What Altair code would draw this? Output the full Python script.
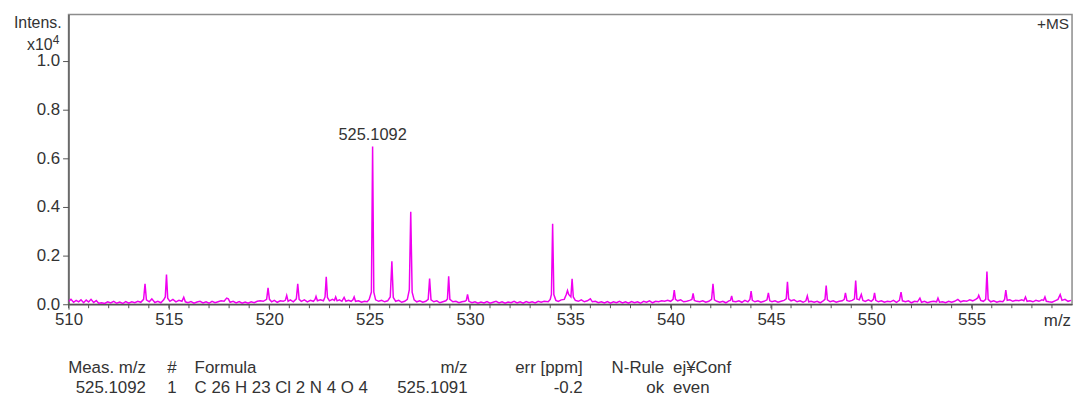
import altair as alt
import pandas as pd

# ---- spectrum data (m/z, intensity x10^4) ----
seg_510_520 = [
    (510.00, 0.012), (510.12, 0.020), (510.25, 0.008), (510.38, 0.016), (510.50, 0.010),
    (510.62, 0.018), (510.75, 0.006), (510.88, 0.017), (511.00, 0.009), (511.12, 0.020),
    (511.25, 0.007), (511.38, 0.015), (511.50, 0.004), (511.65, 0.006), (511.80, 0.003),
    (511.95, 0.010), (512.10, 0.005), (512.25, 0.012), (512.40, 0.004), (512.55, 0.009),
    (512.70, 0.003), (512.85, 0.011), (513.00, 0.004), (513.15, 0.010), (513.30, 0.006),
    (513.45, 0.012), (513.60, 0.008), (513.74, 0.020), (513.81, 0.084), (513.88, 0.018),
    (514.02, 0.010), (514.15, 0.022), (514.30, 0.007), (514.45, 0.012), (514.60, 0.006),
    (514.74, 0.018), (514.82, 0.030), (514.88, 0.122), (514.94, 0.025), (515.05, 0.012),
    (515.20, 0.020), (515.35, 0.010), (515.50, 0.016), (515.65, 0.012), (515.74, 0.029),
    (515.82, 0.010), (515.95, 0.006), (516.10, 0.011), (516.25, 0.004), (516.40, 0.009),
    (516.55, 0.012), (516.70, 0.005), (516.85, 0.010), (517.00, 0.004), (517.15, 0.012),
    (517.30, 0.006), (517.45, 0.010), (517.60, 0.014), (517.75, 0.012), (517.88, 0.025),
    (517.96, 0.022), (518.05, 0.008), (518.20, 0.012), (518.35, 0.005), (518.50, 0.011),
    (518.65, 0.004), (518.80, 0.009), (518.95, 0.004), (519.10, 0.010), (519.25, 0.006),
    (519.40, 0.012), (519.55, 0.014), (519.70, 0.012), (519.87, 0.020), (519.94, 0.067),
    (520.01, 0.020),
]
seg_520_525 = [
    (520.12, 0.010), (520.25, 0.016), (520.40, 0.008), (520.55, 0.014), (520.70, 0.012),
    (520.80, 0.016), (520.87, 0.036), (520.94, 0.012), (521.05, 0.018), (521.20, 0.010),
    (521.35, 0.022), (521.42, 0.084), (521.49, 0.020), (521.60, 0.012), (521.75, 0.018),
    (521.90, 0.010), (522.05, 0.016), (522.20, 0.012), (522.28, 0.020), (522.33, 0.032),
    (522.40, 0.014), (522.55, 0.018), (522.70, 0.014), (522.78, 0.030), (522.84, 0.113),
    (522.90, 0.028), (523.00, 0.014), (523.15, 0.020), (523.25, 0.016), (523.31, 0.030),
    (523.38, 0.014), (523.50, 0.018), (523.62, 0.012), (523.73, 0.028), (523.82, 0.012),
    (523.95, 0.016), (524.08, 0.012), (524.17, 0.018), (524.23, 0.030), (524.30, 0.012),
    (524.45, 0.014), (524.60, 0.008), (524.75, 0.012), (524.88, 0.010), (524.98, 0.020),
    (525.09, 0.050), (525.15, 0.648), (525.21, 0.050), (525.30, 0.018),
]
seg_525_535 = [
    (525.45, 0.012), (525.60, 0.016), (525.75, 0.010), (525.90, 0.014), (526.03, 0.030),
    (526.11, 0.176), (526.18, 0.028), (526.30, 0.012), (526.45, 0.016), (526.60, 0.008),
    (526.75, 0.012), (526.88, 0.020), (526.98, 0.060), (527.05, 0.380), (527.12, 0.050),
    (527.22, 0.018), (527.35, 0.010), (527.50, 0.014), (527.65, 0.008), (527.80, 0.012),
    (527.92, 0.020), (527.99, 0.105), (528.06, 0.018), (528.20, 0.010), (528.35, 0.014),
    (528.50, 0.006), (528.65, 0.010), (528.80, 0.014), (528.88, 0.022), (528.94, 0.115),
    (529.00, 0.020), (529.15, 0.010), (529.30, 0.012), (529.45, 0.006), (529.60, 0.010),
    (529.75, 0.012), (529.82, 0.016), (529.88, 0.040), (529.95, 0.012), (530.10, 0.006),
    (530.25, 0.010), (530.40, 0.004), (530.55, 0.009), (530.70, 0.005), (530.85, 0.011),
    (531.00, 0.004), (531.15, 0.008), (531.30, 0.012), (531.45, 0.005), (531.60, 0.010),
    (531.75, 0.004), (531.90, 0.009), (532.05, 0.006), (532.20, 0.012), (532.35, 0.005),
    (532.50, 0.010), (532.65, 0.004), (532.80, 0.011), (532.95, 0.006), (533.10, 0.010),
    (533.25, 0.005), (533.40, 0.012), (533.55, 0.008), (533.70, 0.012), (533.90, 0.010),
    (534.00, 0.020), (534.06, 0.040), (534.12, 0.330), (534.18, 0.040), (534.28, 0.016),
    (534.40, 0.012), (534.55, 0.018), (534.70, 0.020), (534.80, 0.040), (534.86, 0.056),
    (534.92, 0.040), (535.03, 0.030), (535.09, 0.104), (535.15, 0.030), (535.25, 0.016),
    (535.40, 0.012),
]
seg_535_546 = [
    (535.55, 0.018), (535.70, 0.010), (535.85, 0.014), (536.00, 0.022), (536.10, 0.010),
    (536.25, 0.012), (536.40, 0.006), (536.55, 0.010), (536.70, 0.005), (536.85, 0.011),
    (537.00, 0.004), (537.15, 0.010), (537.30, 0.006), (537.45, 0.012), (537.60, 0.005),
    (537.75, 0.010), (537.90, 0.004), (538.05, 0.011), (538.20, 0.006), (538.35, 0.010),
    (538.50, 0.004), (538.65, 0.012), (538.80, 0.008), (538.95, 0.014), (539.10, 0.006),
    (539.25, 0.012), (539.40, 0.010), (539.55, 0.014), (539.70, 0.012), (539.85, 0.016),
    (540.00, 0.012), (540.12, 0.020), (540.18, 0.058), (540.24, 0.020), (540.35, 0.014),
    (540.50, 0.018), (540.65, 0.010), (540.80, 0.012), (540.95, 0.016), (541.06, 0.020),
    (541.12, 0.045), (541.18, 0.016), (541.30, 0.012), (541.45, 0.010), (541.60, 0.014),
    (541.75, 0.008), (541.90, 0.012), (542.04, 0.020), (542.11, 0.084), (542.18, 0.018),
    (542.30, 0.012), (542.45, 0.008), (542.60, 0.012), (542.75, 0.006), (542.90, 0.014),
    (542.98, 0.016), (543.04, 0.034), (543.10, 0.012), (543.25, 0.010), (543.40, 0.014),
    (543.55, 0.008), (543.70, 0.016), (543.85, 0.010), (543.95, 0.020), (544.01, 0.054),
    (544.07, 0.016), (544.20, 0.010), (544.35, 0.014), (544.50, 0.008), (544.65, 0.012),
    (544.80, 0.018), (544.87, 0.047), (544.94, 0.014), (545.05, 0.010), (545.20, 0.014),
    (545.35, 0.008), (545.50, 0.012), (545.65, 0.016), (545.76, 0.022), (545.82, 0.092),
    (545.88, 0.022),
]
seg_546_560 = [
    (546.00, 0.014), (546.15, 0.018), (546.30, 0.010), (546.45, 0.014), (546.60, 0.008),
    (546.74, 0.014), (546.81, 0.034), (546.88, 0.010), (547.00, 0.012), (547.15, 0.008),
    (547.30, 0.012), (547.45, 0.006), (547.60, 0.014), (547.69, 0.020), (547.75, 0.077),
    (547.81, 0.018), (547.95, 0.010), (548.10, 0.014), (548.25, 0.008), (548.40, 0.012),
    (548.55, 0.014), (548.65, 0.020), (548.71, 0.047), (548.78, 0.016), (548.90, 0.012),
    (549.05, 0.016), (549.16, 0.022), (549.22, 0.097), (549.28, 0.022), (549.40, 0.018),
    (549.50, 0.040), (549.58, 0.016), (549.70, 0.012), (549.85, 0.018), (550.00, 0.012),
    (550.10, 0.020), (550.16, 0.047), (550.22, 0.016), (550.35, 0.010), (550.50, 0.014),
    (550.65, 0.008), (550.80, 0.012), (550.95, 0.010), (551.10, 0.016), (551.25, 0.008),
    (551.40, 0.016), (551.48, 0.050), (551.55, 0.014), (551.70, 0.010), (551.85, 0.014),
    (552.00, 0.006), (552.15, 0.012), (552.30, 0.010), (552.42, 0.025), (552.50, 0.008),
    (552.65, 0.012), (552.80, 0.006), (552.95, 0.010), (553.10, 0.012), (553.25, 0.010),
    (553.32, 0.025), (553.40, 0.008), (553.55, 0.010), (553.70, 0.006), (553.85, 0.012),
    (554.00, 0.008), (554.15, 0.012), (554.31, 0.020), (554.45, 0.010), (554.60, 0.014),
    (554.75, 0.012), (554.90, 0.018), (555.05, 0.014), (555.20, 0.020), (555.30, 0.026),
    (555.35, 0.037), (555.45, 0.016), (555.58, 0.012), (555.70, 0.020), (555.76, 0.134),
    (555.82, 0.020), (555.95, 0.010), (556.10, 0.014), (556.25, 0.008), (556.40, 0.012),
    (556.55, 0.010), (556.64, 0.020), (556.70, 0.058), (556.77, 0.016), (556.90, 0.018),
    (557.05, 0.012), (557.20, 0.016), (557.35, 0.014), (557.50, 0.018), (557.60, 0.014),
    (557.68, 0.030), (557.76, 0.012), (557.90, 0.014), (558.05, 0.010), (558.20, 0.016),
    (558.35, 0.012), (558.50, 0.018), (558.58, 0.016), (558.65, 0.030), (558.72, 0.012),
    (558.85, 0.010), (559.00, 0.008), (559.15, 0.014), (559.30, 0.020), (559.41, 0.040),
    (559.50, 0.016), (559.65, 0.020), (559.80, 0.012), (559.95, 0.016),
]

peak_label_mz = [525.15]
peak_label_int = [0.648]
peak_label_text = ["525.1092"]

x_major = [510, 515, 520, 525, 530, 535, 540, 545, 550, 555]
x_minor = list(range(510, 560))
y_ticks = [0.0, 0.1, 0.2, 0.3, 0.4, 0.5, 0.6, 0.7, 0.8, 0.9, 1.0, 1.1]

table_header = ["Meas. m/z", "#", "Formula", "m/z", "err [ppm]", "N-Rule", "ej¥Conf"]
table_values = ["525.1092", "1", "C 26 H 23 Cl 2 N 4 O 4", "525.1091", "-0.2", "ok", "even"]

# ---- layout (pixels relative to plot origin) ----
W, H = 1011, 292
col_x = [78, 109, 127, 402, 518, 600, 609]
col_align = ["right", "right", "left", "right", "right", "right", "left"]
header_y, value_y = 356, 376

FONT = "Liberation Sans"
TXT = "#333333"
LINE = "#f000f0"
AX = "#555555"

rows = seg_510_520 + seg_520_525 + seg_525_535 + seg_535_546 + seg_546_560
spec = pd.DataFrame(rows, columns=["mz", "intensity"])

xscale = alt.Scale(domain=[510, 560], nice=False, zero=False)
yscale = alt.Scale(domain=[0, 1.19], nice=False)

line = alt.Chart(spec).mark_line(color=LINE, strokeWidth=1.5, clip=True).encode(
    x=alt.X("mz:Q", scale=xscale,
            axis=alt.Axis(values=x_major, title=None, grid=False, format="d",
                          labelFlush=False, labelOverlap=False, tickSize=5,
                          labelPadding=2)),
    y=alt.Y("intensity:Q", scale=yscale,
            axis=alt.Axis(values=y_ticks, title=None, grid=False,
                          labelExpr="(round(datum.value*10) % 2 == 0 && datum.value < 1.05) ? format(datum.value, '.1f') : ''",
                          labelOverlap=False, labelFlush=False, tickSize=6, labelPadding=3)),
)

minor_df = pd.DataFrame({"mz": x_minor})
minor_ticks = alt.Chart(minor_df).mark_rule(color=AX, strokeWidth=1).encode(
    x=alt.X("mz:Q", scale=xscale), y=alt.value(H), y2=alt.value(H + 4))

lbl_df = pd.DataFrame({"mz": peak_label_mz, "intensity": peak_label_int, "label": peak_label_text})
peak_label = alt.Chart(lbl_df).mark_text(baseline="bottom", dy=-3, fontSize=16.5, font=FONT, color=TXT).encode(
    x="mz:Q", y="intensity:Q", text="label:N")

one = pd.DataFrame({"k": [0]})

def static_text(txt, x, y, align="left", size=17, baseline="middle"):
    return alt.Chart(one).mark_text(text=txt, align=align, baseline=baseline, fontSize=size,
                                    font=FONT, color=TXT).encode(x=alt.value(x), y=alt.value(y))

layers = [line, minor_ticks, peak_label,
          static_text("m/z", W - 1, 309, "right", 17),
          static_text("Intens.", -7, 8.5, "right", 16),
          static_text("x10", -16, 31, "right", 16),
          static_text("4", -16, 26, "left", 12),
          static_text("+MS", W - 3, 10, "right", 15.5)]
for i in range(len(table_header)):
    layers.append(static_text(table_header[i], col_x[i], header_y, col_align[i], 17))
    layers.append(static_text(table_values[i], col_x[i], value_y, col_align[i], 17))

chart = alt.layer(*layers).properties(
    width=W, height=H,
    padding={"left": 61, "top": 5, "right": 5, "bottom": 92},
    autosize=alt.AutoSizeParams(type="none"),
).configure_view(stroke="#8c8c8c", strokeWidth=1.5).configure_axis(
    labelFont=FONT, labelFontSize=17, labelColor=TXT,
    domainColor=AX, tickColor=AX, domainWidth=1.3,
)

chart.save("out.html", embed_options={"renderer": "svg", "actions": False})
